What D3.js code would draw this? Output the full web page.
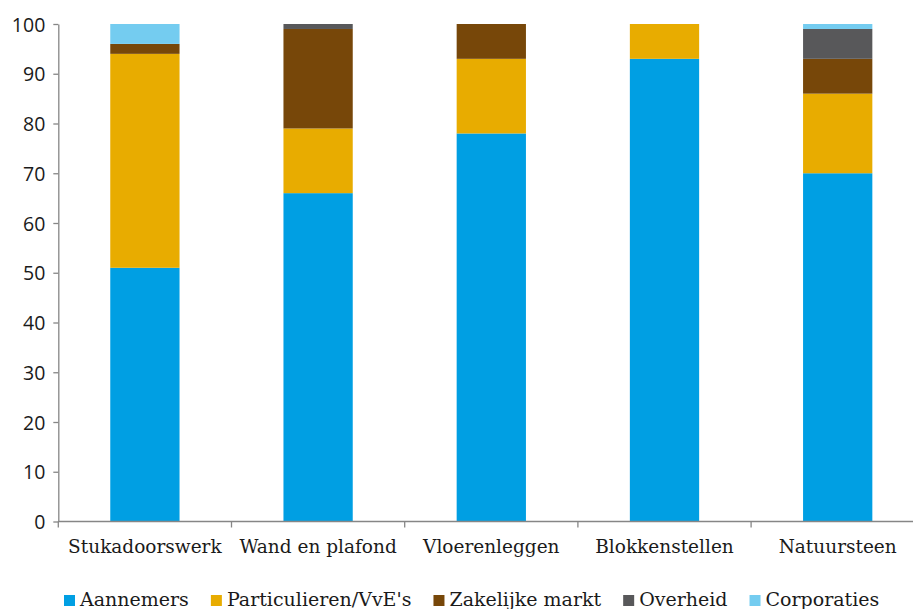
<!DOCTYPE html>
<html><head><meta charset="utf-8">
<script src="https://cdn.jsdelivr.net/npm/d3@7"></script>
<style>body{margin:0;background:#fff}svg{display:block}</style>
</head><body>
<svg id="c" width="913" height="609"></svg>
<script>
const categories = ["Stukadoorswerk","Wand en plafond","Vloerenleggen","Blokkenstellen","Natuursteen"];
const seriesNames = ["Aannemers","Particulieren/VvE's","Zakelijke markt","Overheid","Corporaties"];
const aannemers     = [51, 66, 78, 93, 70];
const particulieren = [43, 13, 15, 7, 16];
const zakelijk      = [2, 20, 7, 0, 7];
const overheid      = [0, 1, 0, 0, 6];
const corporaties   = [4, 0, 0, 0, 1];
const yTicks = [0,10,20,30,40,50,60,70,80,90,100];
const colors = ["#009FE3","#E8AC00","#774709","#58585A","#74CCF0"];

const seriesValues = [aannemers, particulieren, zakelijk, overheid, corporaties];
const rows = categories.map((c,i)=>{const r={cat:c}; seriesNames.forEach((s,j)=>r[s]=seriesValues[j][i]); return r;});
const stacked = d3.stack().keys(seriesNames)(rows);

const svg = d3.select("#c");
const x0 = 58.3, step = 173.2;
const x = d3.scaleBand().domain(categories).range([x0, x0 + step*categories.length]).paddingInner(0.6).paddingOuter(0.3);
const xb = d3.scaleBand().domain(categories).range([x0, x0 + step*categories.length]).padding(0);
const y = d3.scaleLinear().domain([0,100]).range([521.5, 24]);

svg.append("g").selectAll("g").data(stacked).join("g").attr("fill",(d,i)=>colors[i])
  .selectAll("rect").data(d=>d).join("rect")
  .attr("x",d=>x(d.data.cat)).attr("width",x.bandwidth())
  .attr("y",d=>y(d[1])).attr("height",d=>y(d[0])-y(d[1]));

// y axis
const ya = svg.append("g").attr("transform",`translate(${x0},0)`)
  .call(d3.axisLeft(y).tickValues(yTicks).tickSize(5).tickSizeOuter(0).tickPadding(8));
ya.select(".domain").attr("stroke","#868686").attr("stroke-width",1.3);
ya.selectAll(".tick line").attr("stroke","#868686").attr("stroke-width",1.3);
ya.selectAll(".tick text").attr("font-family","'Open Sans', sans-serif").attr("font-size",19.5).attr("fill","#1a1a1a").attr("dy","0.36em");

// x axis
const xa = svg.append("g").attr("transform",`translate(0,${y(0)})`);
xa.append("line").attr("x1",x0).attr("x2",913).attr("stroke","#868686").attr("stroke-width",1.3);
xa.selectAll(".tk").data(categories).join("line").attr("class","tk")
  .attr("x1",d=>xb(d)).attr("x2",d=>xb(d)).attr("y1",0).attr("y2",6).attr("stroke","#868686").attr("stroke-width",1.3);
xa.selectAll(".lb").data(categories).join("text").attr("class","lb")
  .attr("x",d=>xb(d)+xb.bandwidth()/2).attr("y",31).attr("text-anchor","middle")
  .attr("font-family","'DejaVu Serif', serif").attr("font-size",18.5).attr("fill","#1a1a1a").text(d=>d);

// legend
const lg = svg.append("g").attr("transform","translate(64,606)");
let lx = 0;
seriesNames.forEach((s,i)=>{
  lg.append("rect").attr("x",lx).attr("y",-11).attr("width",11).attr("height",11).attr("fill",colors[i]);
  const t = lg.append("text").attr("x",lx+16).attr("y",0).attr("font-family","'DejaVu Serif', serif")
    .attr("font-size",19).attr("fill","#1a1a1a").text(s);
  lx += 16 + t.node().getComputedTextLength() + 22;
});
</script>
</body></html>
